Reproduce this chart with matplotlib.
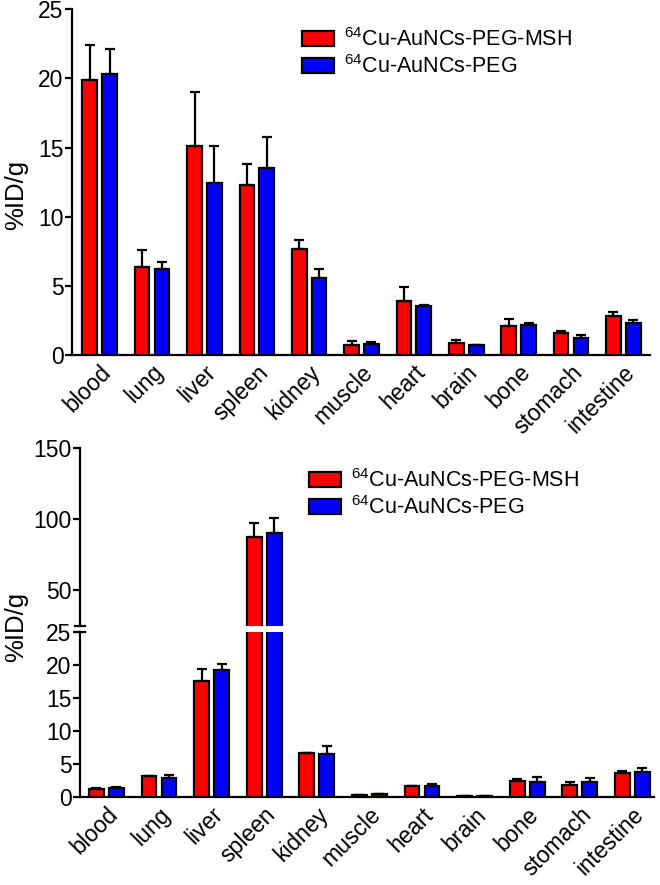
import matplotlib
matplotlib.use("Agg")
import matplotlib.pyplot as plt
from matplotlib.patches import Patch
import numpy as np

plt.rcParams['font.family'] = ['Liberation Sans', 'DejaVu Sans']
plt.rcParams['mathtext.fontset'] = 'custom'
plt.rcParams['mathtext.rm'] = 'Liberation Sans'

organs = ["blood", "lung", "liver", "spleen", "kidney", "muscle",
          "heart", "brain", "bone", "stomach", "intestine"]
labels = [r"$\mathregular{^{64}}$Cu-AuNCs-PEG-MSH", r"$\mathregular{^{64}}$Cu-AuNCs-PEG"]

# top panel (%ID/g)
top_msh = [19.9, 6.35, 15.15, 12.3, 7.65, 0.75, 3.93, 0.85, 2.1, 1.6, 2.85]
top_msh_err = [2.5, 1.25, 3.9, 1.5, 0.65, 0.25, 0.97, 0.25, 0.5, 0.1, 0.25]
top_peg = [20.3, 6.25, 12.45, 13.55, 5.6, 0.8, 3.55, 0.7, 2.15, 1.25, 2.35]
top_peg_err = [1.8, 0.45, 2.65, 2.2, 0.65, 0.15, 0.05, 0.05, 0.15, 0.2, 0.2]

# bottom panel (%ID/g)
bot_msh = [1.3, 3.2, 17.55, 87.1, 6.63, 0.3, 1.7, 0.25, 2.46, 1.86, 3.62]
bot_msh_err = [0.05, 0.05, 1.75, 10.3, 0.07, 0.05, 0.05, 0.02, 0.24, 0.5, 0.35]
bot_peg = [1.45, 2.9, 19.2, 90.1, 6.53, 0.45, 1.7, 0.25, 2.36, 2.3, 3.82]
bot_peg_err = [0.1, 0.45, 0.9, 10.8, 1.2, 0.05, 0.3, 0.02, 0.74, 0.66, 0.65]

RED = "#ff0000"
BLUE = "#0000ff"
W = 0.28
OFF = 0.19
LW = 1.6
TICK_FS = 16.5
LABEL_FS = 18.5

W_PX, H_PX = 660, 885


def box(l, t, r, b):
    # pixel box -> figure fraction
    return [l / W_PX, 1 - b / H_PX, (r - l) / W_PX, (b - t) / H_PX]


def draw_bars(ax, msh, msh_err, peg, peg_err):
    x = np.arange(len(organs))
    z = np.zeros(len(organs))
    ekw = dict(elinewidth=LW, capthick=LW, ecolor="black")
    ax.bar(x - OFF, msh, W, color=RED, edgecolor="black", linewidth=LW,
           yerr=[z, msh_err], capsize=3.5, error_kw=ekw, zorder=3)
    ax.bar(x + OFF, peg, W, color=BLUE, edgecolor="black", linewidth=LW,
           yerr=[z, peg_err], capsize=3.5, error_kw=ekw, zorder=3)


def style_axis(ax):
    for s in ["top", "right"]:
        ax.spines[s].set_visible(False)
    for s in ["left", "bottom"]:
        ax.spines[s].set_linewidth(LW)
    ax.tick_params(axis='y', direction='out', length=5, width=LW, labelsize=TICK_FS, pad=1)
    ax.tick_params(axis='x', length=0, labelsize=TICK_FS, pad=4)


def legend(fig, x, y):
    handles = [Patch(facecolor=RED, edgecolor="black", linewidth=LW),
               Patch(facecolor=BLUE, edgecolor="black", linewidth=LW)]
    fig.legend(handles, labels, loc="upper left", bbox_to_anchor=(x / W_PX, 1 - y / H_PX),
               frameon=False, fontsize=15.5, borderpad=0, handlelength=1.5,
               handleheight=0.7, handletextpad=0.45, labelspacing=0.2, borderaxespad=0)


fig = plt.figure(figsize=(6.6, 8.85), dpi=100)

# top panel
ax1 = fig.add_axes(box(72, 9.3, 650, 355))
draw_bars(ax1, top_msh, top_msh_err, top_peg, top_peg_err)
ax1.set_ylim(0, 25)
ax1.set_yticks([0, 5, 10, 15, 20, 25])
ax1.set_xlim(-0.53, 10.51)
ax1.set_xticks(np.arange(len(organs)))
ax1.set_xticklabels(organs, rotation=45, ha="right", rotation_mode="anchor")
style_axis(ax1)
fig.text(16.5 / W_PX, 1 - 195 / H_PX, "%ID/g", rotation=90, fontsize=LABEL_FS,
         ha="center", va="center")
legend(fig, 302, 28)

# bottom panel, broken y axis
ax_lo = fig.add_axes(box(80, 631.6, 654, 797.3))
ax_hi = fig.add_axes(box(80, 448.3, 654, 625.5))
for ax in [ax_lo, ax_hi]:
    draw_bars(ax, bot_msh, bot_msh_err, bot_peg, bot_peg_err)
    ax.set_xlim(-0.5, 10.41)
    style_axis(ax)

ax_lo.set_ylim(0, 25)
ax_lo.set_yticks([0, 5, 10, 15, 20, 25])
ax_lo.set_xticks(np.arange(len(organs)))
ax_lo.set_xticklabels(organs, rotation=45, ha="right", rotation_mode="anchor")

ax_hi.set_ylim(25, 150)
ax_hi.set_yticks([50, 100, 150])
ax_hi.spines["bottom"].set_visible(False)
ax_hi.set_xticks([])

# break marks on the y axis
ax_lo.plot([-0.009, 0.009], [1, 1], transform=ax_lo.transAxes, color="black",
           lw=LW, clip_on=False)
ax_hi.plot([-0.009, 0.009], [0, 0], transform=ax_hi.transAxes, color="black",
           lw=LW, clip_on=False)

fig.text(16.5 / W_PX, 1 - 627 / H_PX, "%ID/g", rotation=90, fontsize=LABEL_FS,
         ha="center", va="center")
legend(fig, 309, 469)

fig.savefig("out.png", dpi=100)
